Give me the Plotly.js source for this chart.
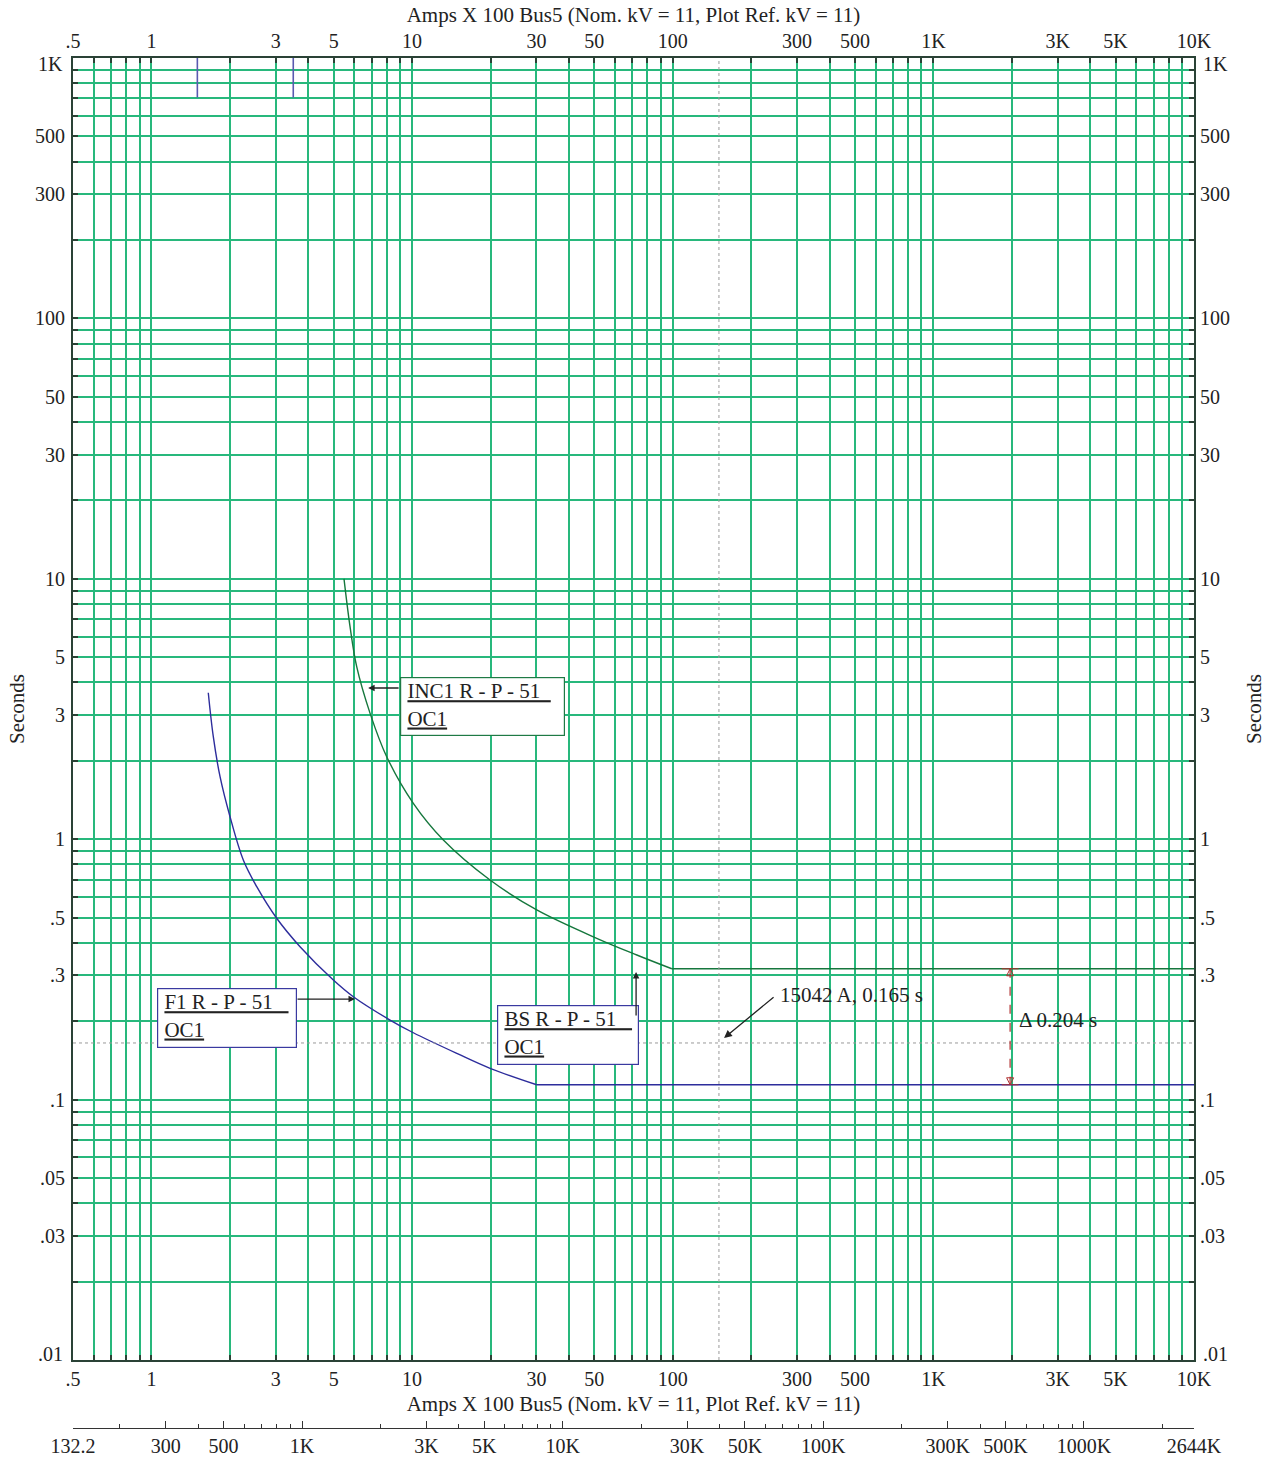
<!DOCTYPE html>
<html><head><meta charset="utf-8">
<script src="https://cdn.plot.ly/plotly-3.0.1.min.js"></script>
<style>html,body{margin:0;padding:0;background:#fff}#chart{width:1272px;height:1458px}</style>
</head><body><div id="chart"></div>
<script>
// ---- data ----
const f1CurveAmps = [1.652,1.727,1.833,2.002,2.251,2.535,3.023,3.716,4.987,5.95,8.23,10.11,14.84,19.91,30.08];
const f1CurveSecs = [3.652,2.475,1.738,1.220,0.832,0.657,0.497,0.3866,0.2879,0.2484,0.2021,0.1806,0.1505,0.1319,0.114];
const f1FlatAmps = [30.08,10000];
const f1FlatSecs = [0.114,0.114];
const incCurveAmps = [5.48,5.78,6.13,6.90,7.99,10.11,13.18,19.91,30.08,51.1,72.8,99.2];
const incCurveSecs = [10,6.55,4.597,3.043,2.074,1.373,0.993,0.697,0.535,0.4164,0.3592,0.318];
const incFlatAmps = [99.2,10000];
const incFlatSecs = [0.318,0.318];
const instAmps = [1.5,1.5,null,3.5,3.5];
const instSecs = [1000,705,null,1000,705];
const faultAmps = 150.42;   // 15042 A
const faultSecs = 0.165;
const deltaAmps = 1970;
const deltaTop = 0.318, deltaBot = 0.114;

const xLabelVals = [0.5,1,3,5,10,30,50,100,300,500,1000,3000,5000,10000];
const xLabelText = ['.5','1','3','5','10','30','50','100','300','500','1K','3K','5K','10K'];
const yLabelVals = [0.01,0.03,0.05,0.1,0.3,0.5,1,3,5,10,30,50,100,300,500,1000];
const yLabelText = ['.01','.03','.05','.1','.3','.5','1','3','5','10','30','50','100','300','500','1K'];
const aLabelVals = [132.2,300,500,1000,3000,5000,10000,30000,50000,100000,300000,500000,1000000,2644000];
const aLabelText = ['132.2','300','500','1K','3K','5K','10K','30K','50K','100K','300K','500K','1000K','2644K'];

function decadeTicks(lo, hi, labVals, labText, hideEnds){
  const vals=[], text=[];
  for(let e=Math.floor(Math.log10(lo)); e<=Math.ceil(Math.log10(hi)); e++){
    for(let m=1;m<=9;m++){
      const v=m*Math.pow(10,e);
      if(v<lo*0.9999 || v>hi*1.0001) continue;
      if(labVals.some(t=>Math.abs(t-v)/v<1e-6)) continue;
      vals.push(v); text.push('');
    }
  }
  labVals.forEach((v,i)=>{ vals.push(v); text.push(hideEnds && (i===0 || i===labVals.length-1) ? '' : labText[i]); });
  return {vals, text};
}
function minorOnly(lo, hi, labVals){
  const out=[];
  for(let e=Math.floor(Math.log10(lo)); e<=Math.ceil(Math.log10(hi)); e++){
    for(let m=1;m<=9;m++){
      const v=m*Math.pow(10,e);
      if(v>lo*1.0001 && v<hi*0.9999 && !labVals.some(t=>Math.abs(t-v)/v<1e-6)) out.push(v);
    }
  }
  return out;
}
const L = Math.log10;
const FONT = 'Liberation Serif, Times New Roman, serif';
const GRID = 'rgb(40,184,124)';
const AX = '#2a4236';

const xT = decadeTicks(0.5,10000,xLabelVals,xLabelText,false);
const yT = decadeTicks(0.01,1000,yLabelVals,yLabelText,true);
const aMinor = minorOnly(132.2,2644000,aLabelVals);

const traces = [
  {x:f1CurveAmps, y:f1CurveSecs, mode:'lines', line:{color:'#2d2d9c', width:1.4, shape:'spline', smoothing:1}, hoverinfo:'skip'},
  {x:f1FlatAmps, y:f1FlatSecs, mode:'lines', line:{color:'#2d2d9c', width:1.4}, hoverinfo:'skip'},
  {x:incCurveAmps, y:incCurveSecs, mode:'lines', line:{color:'#16773d', width:1.4, shape:'spline', smoothing:1}, hoverinfo:'skip'},
  {x:incFlatAmps, y:incFlatSecs, mode:'lines', line:{color:'#16773d', width:1.4}, hoverinfo:'skip'},
  {x:instAmps, y:instSecs, mode:'lines', line:{color:'#5a5ab0', width:1.6}, hoverinfo:'skip', connectgaps:false},
  {x:[faultAmps,faultAmps], y:[0.01,1000], mode:'lines', line:{color:'#9a9a9a', width:1, dash:'dot'}, hoverinfo:'skip'},
  {x:[0.5,10000], y:[faultSecs,faultSecs], mode:'lines', line:{color:'#9a9a9a', width:1, dash:'dot'}, hoverinfo:'skip'},
  {x:[deltaAmps,deltaAmps], y:[deltaTop,deltaBot], mode:'lines', line:{color:'#b03030', width:1.2, dash:'dash'}, hoverinfo:'skip'},
  {x:[deltaAmps,deltaAmps], y:[deltaTop,deltaBot], mode:'markers', marker:{symbol:['arrow-up-open','arrow-down-open'], size:7, color:'#b03030', line:{color:'#b03030', width:1}}, hoverinfo:'skip'},
  {x:[deltaAmps,deltaAmps], y:[deltaTop,deltaBot], mode:'markers', marker:{symbol:'line-ew-open', size:12, color:'#b03030', line:{color:'#b03030', width:1}}, hoverinfo:'skip'},
  {x:[1,10], y:[1,10], xaxis:'x2', yaxis:'y2', mode:'markers', marker:{opacity:0}, hoverinfo:'skip'},
  {x:[1000,10000], y:[1,10], xaxis:'x3', yaxis:'y', mode:'markers', marker:{opacity:0}, hoverinfo:'skip'}
];

const tickFont = {family:FONT, size:20, color:'#222'};
const titleFont = {family:FONT, size:21, color:'#222'};
const annFont = {family:FONT, size:21, color:'#222'};

function mainAxis(extra){
  return Object.assign({type:'log', tickmode:'array', tickfont:tickFont,
    ticks:'inside', ticklen:5, tickwidth:2, tickcolor:AX,
    showline:true, linecolor:AX, linewidth:2, zeroline:false}, extra);
}
const ydom = [68/1370, 1];
const xTitle = 'Amps X 100 Bus5 (Nom. kV = 11, Plot Ref. kV = 11)';
const layout = {
  width:1272, height:1458,
  margin:{l:73, r:78, t:58, b:30, pad:0},
  paper_bgcolor:'#fff', plot_bgcolor:'#fff',
  showlegend:false,
  xaxis:mainAxis({range:[L(0.5),4], domain:[0,1], anchor:'y', tickvals:xT.vals, ticktext:xT.text,
    showgrid:true, gridcolor:GRID, gridwidth:2,
    title:{text:xTitle, font:titleFont, standoff:7}}),
  xaxis2:mainAxis({range:[L(0.5),4], overlaying:'x', side:'top', anchor:'y', tickvals:xT.vals, ticktext:xT.text,
    showgrid:false, title:{text:xTitle, font:titleFont, standoff:2}}),
  xaxis3:{type:'log', range:[L(132.2),L(2644000)], overlaying:'x', anchor:'free', position:0, side:'bottom',
    tickmode:'array', tickvals:aLabelVals, ticktext:aLabelText, tickfont:tickFont,
    ticks:'inside', ticklen:7, tickwidth:1, tickcolor:'#333',
    showgrid:false, minor:{tickmode:'array', tickvals:aMinor, ticks:'inside', ticklen:4, tickwidth:1, tickcolor:'#333', showgrid:false},
    showline:true, linecolor:'#333', linewidth:1, zeroline:false},
  yaxis:mainAxis({range:[-2,3], domain:ydom, anchor:'x', tickvals:yT.vals, ticktext:yT.text,
    showgrid:true, gridcolor:GRID, gridwidth:2, ticklabelstandoff:2,
    title:{text:'Seconds', font:titleFont, standoff:5}}),
  yaxis2:mainAxis({range:[-2,3], overlaying:'y', side:'right', anchor:'x', tickvals:yT.vals, ticktext:yT.text,
    showgrid:false, title:{text:'Seconds', font:titleFont, standoff:17}}),
  annotations:[
    {xref:'paper', yref:'y', x:0, y:3, xanchor:'right', yanchor:'middle', xshift:-8, yshift:-6, showarrow:false, text:yLabelText[yLabelText.length-1], font:tickFont},
    {xref:'paper', yref:'y', x:0, y:-2, xanchor:'right', yanchor:'middle', xshift:-8, yshift:6, showarrow:false, text:yLabelText[0], font:tickFont},
    {xref:'paper', yref:'y', x:1, y:3, xanchor:'left', yanchor:'middle', xshift:7, yshift:-6, showarrow:false, text:yLabelText[yLabelText.length-1], font:tickFont},
    {xref:'paper', yref:'y', x:1, y:-2, xanchor:'left', yanchor:'middle', xshift:7, yshift:6, showarrow:false, text:yLabelText[0], font:tickFont},
    {xref:'x', yref:'y', x:L(8.99), y:L(4.197), xanchor:'left', yanchor:'top', showarrow:false,
     text:'\u00a0<u>INC1 R - P - 51\u00a0\u00a0</u><br>\u00a0<u>OC1</u>', align:'left', valign:'top',
     width:161, height:55, borderpad:1, bordercolor:'#1f7a45', borderwidth:1.2, bgcolor:'#fff', font:annFont},
    {xref:'x', yref:'y', x:L(1.05), y:L(0.2683), xanchor:'left', yanchor:'top', showarrow:false,
     text:'\u00a0<u>F1 R - P - 51\u00a0\u00a0\u00a0</u><br>\u00a0<u>OC1</u>', align:'left', valign:'top',
     width:136, height:56, borderpad:1, bordercolor:'#3a3aa0', borderwidth:1.2, bgcolor:'#fff', font:annFont},
    {xref:'x', yref:'y', x:L(21.18), y:L(0.2309), xanchor:'left', yanchor:'top', showarrow:false,
     text:'\u00a0<u>BS R - P - 51\u00a0\u00a0\u00a0</u><br>\u00a0<u>OC1</u>', align:'left', valign:'top',
     width:138, height:56, borderpad:1, bordercolor:'#3a3aa0', borderwidth:1.2, bgcolor:'#fff', font:annFont},
    {xref:'x', yref:'y', x:L(6.78), y:L(3.807), ax:32, ay:0, text:'', showarrow:true, arrowhead:2, arrowsize:1, arrowwidth:1.3, arrowcolor:'#222', standoff:0},
    {xref:'x', yref:'y', x:L(6.04), y:L(0.2433), ax:-59, ay:0, text:'', showarrow:true, arrowhead:2, arrowsize:1, arrowwidth:1.3, arrowcolor:'#222', standoff:0},
    {xref:'x', yref:'y', x:L(72.35), y:L(0.309), ax:0, ay:45, text:'', showarrow:true, arrowhead:2, arrowsize:1, arrowwidth:1.3, arrowcolor:'#222', standoff:0},
    {xref:'x', yref:'y', x:L(157.4), y:L(0.1724), ax:51, ay:-42, text:'', showarrow:true, arrowhead:2, arrowsize:1.2, arrowwidth:1.3, arrowcolor:'#222', standoff:0},
    {xref:'x', yref:'y', x:L(253.7), y:L(0.2522), xanchor:'left', yanchor:'middle', showarrow:false,
     text:'15042 A, 0.165 s', font:annFont},
    {xref:'x', yref:'y', x:L(2096), y:L(0.2021), xanchor:'left', yanchor:'middle', showarrow:false,
     text:'Δ 0.204 s', font:annFont}
  ]
};

Plotly.newPlot('chart', traces, layout, {staticPlot:true, displayModeBar:false});
</script></body></html>
